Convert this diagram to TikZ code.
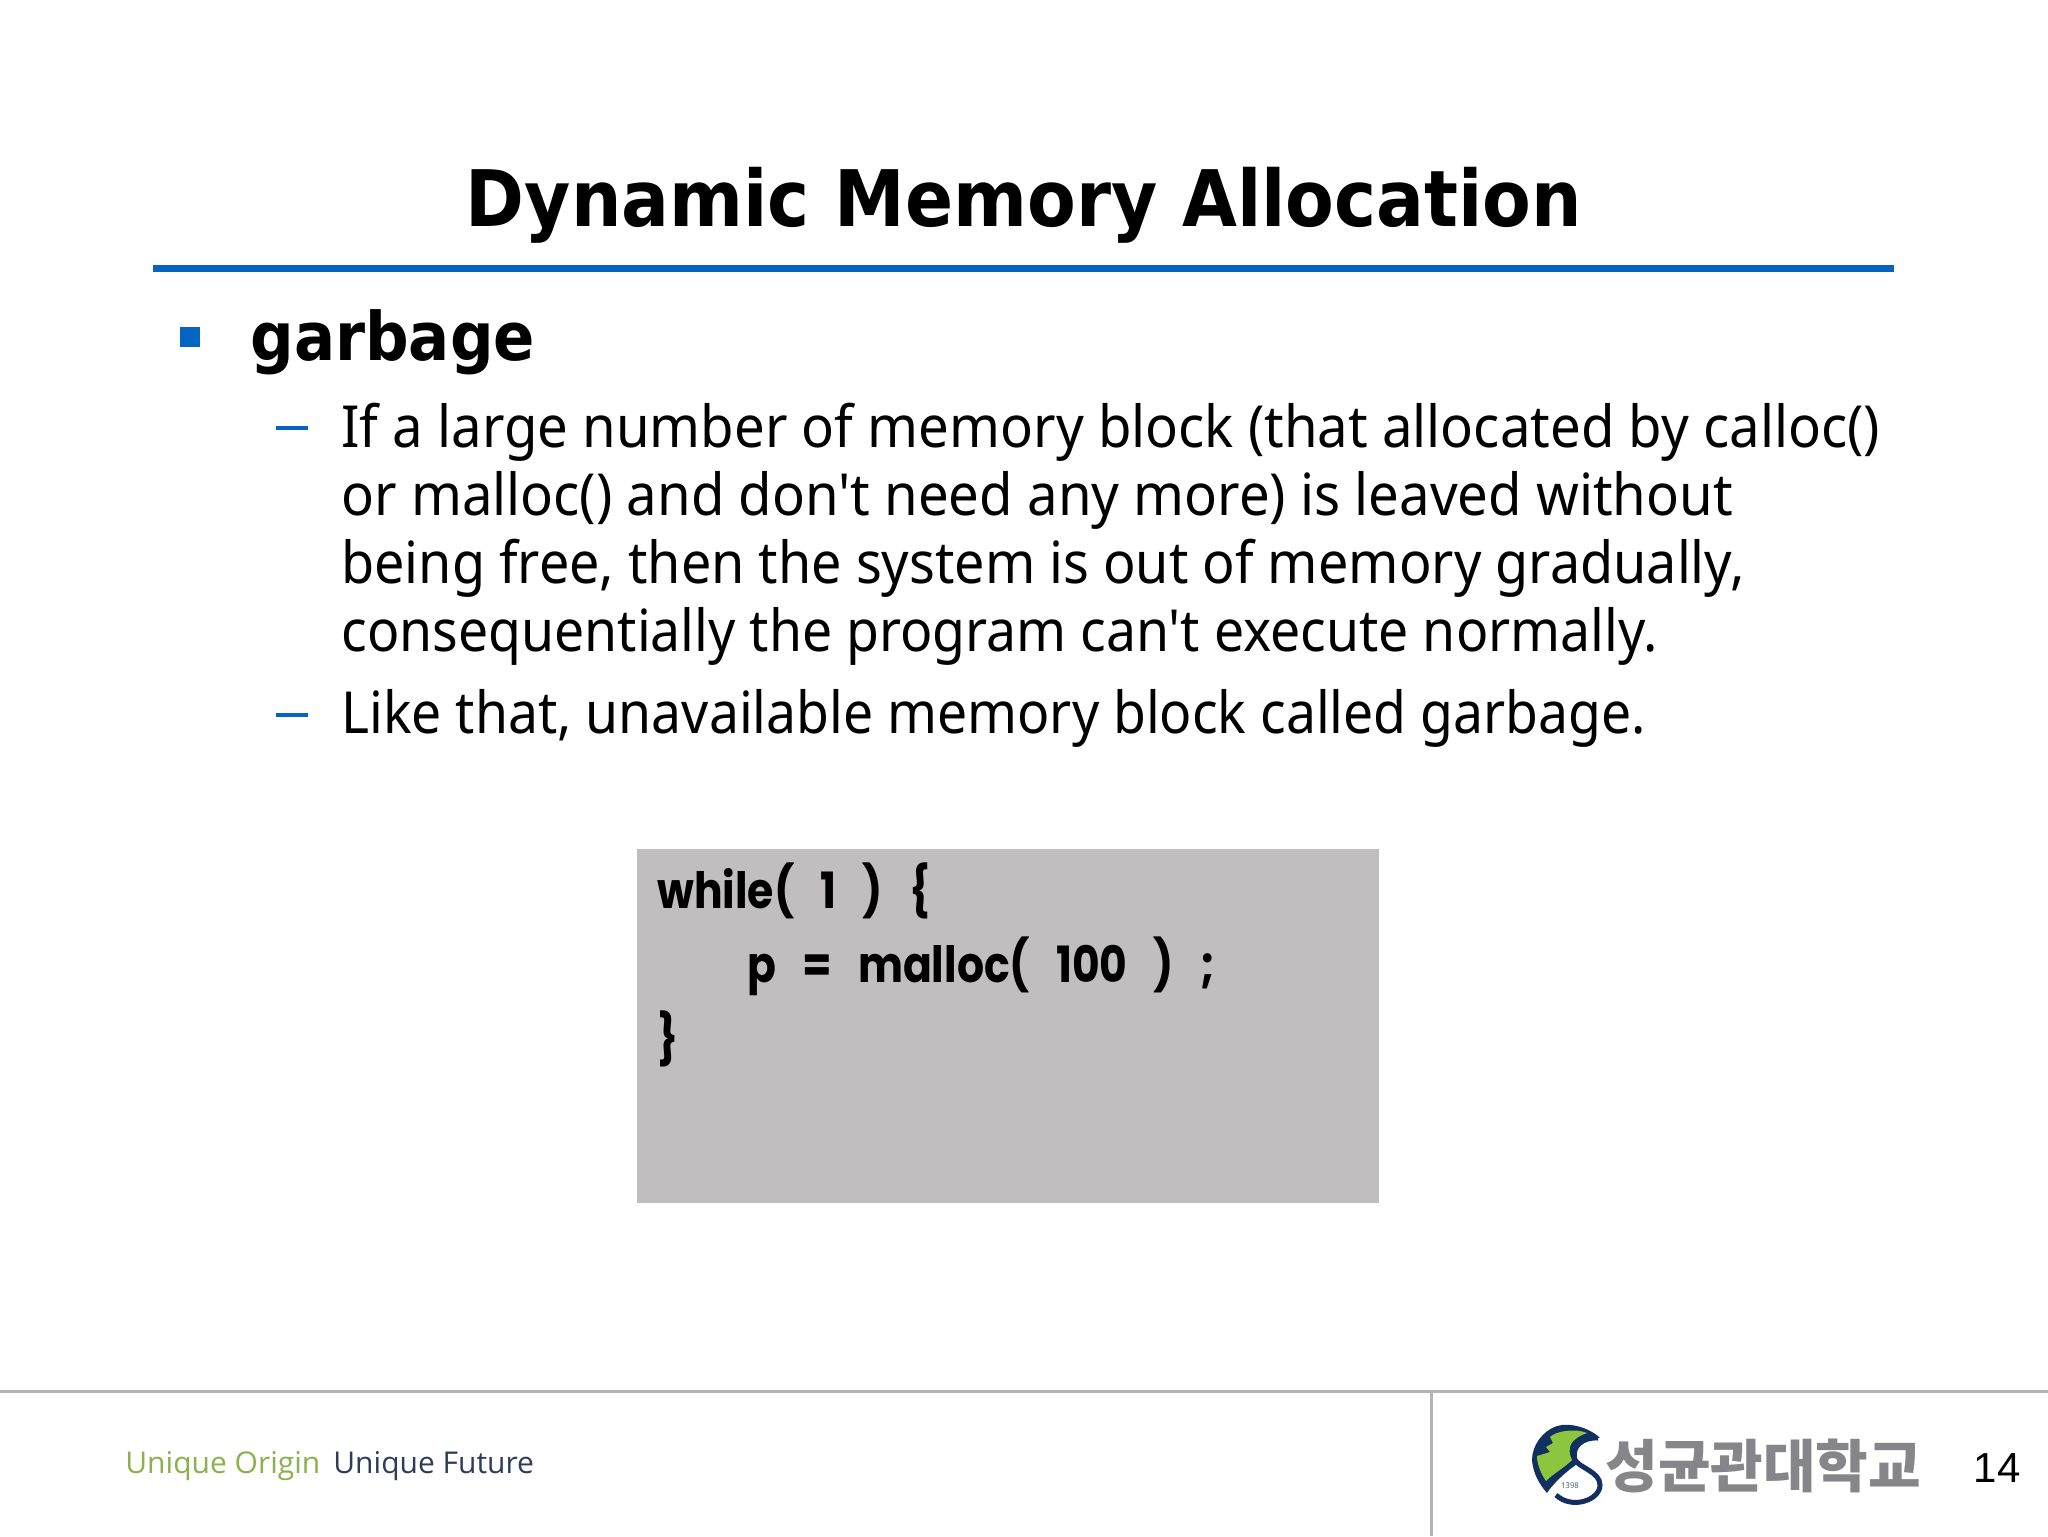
\documentclass[tikz,border=0pt]{standalone}
\usepackage{fontspec}
\setmainfont[FakeStretch=0.94, Ligatures=TeXOff]{Noto Sans}
\newfontfamily\titlefont[FakeStretch=0.91]{DejaVu Sans}
\newfontfamily\codefont[FakeStretch=0.85, WordSpace=2.9]{Poppins}
\newfontfamily\hangulfont{Noto Sans CJK KR}
\newfontfamily\footfont{Open Sans}
\newfontfamily\pagefont{Liberation Sans}
\newcommand{\squeezed}[2]{\scalebox{#1}[1]{#2}}
\definecolor{barblue}{HTML}{0563C1}
\definecolor{rulegray}{HTML}{B4B4B4}
\definecolor{boxgray}{HTML}{C0BEBF}
\definecolor{leafgreen}{HTML}{8CC63F}
\definecolor{leafnavy}{HTML}{12305F}
\definecolor{origingreen}{HTML}{8DB04E}
\definecolor{futurenavy}{HTML}{2F3C58}
\definecolor{hangulgray}{HTML}{86868A}
\tikzset{
  bodyline/.style={anchor=base west, inner sep=0pt, font=\fontsize{29}{29}\selectfont},
  codeline/.style={anchor=base west, inner sep=0pt, font=\codefont\bfseries\fontsize{25}{25}\selectfont},
  footline/.style={anchor=base west, inner sep=0pt, font=\footfont\fontsize{15}{15}\selectfont},
}

\begin{document}
\begin{tikzpicture}[x=0.5pt, y=-0.5pt]
    \useasboundingbox (0,0) rectangle (2048,1536);
    \coordinate (TL) at (153,268);
    \coordinate (TR) at (1894,268);
    \coordinate (FL) at (0,1391);
    \coordinate (FR) at (2048,1391);
    \coordinate (FM) at (1431,1391);
    \coordinate (FB) at (1431,1536);
    % title and rule
    \node[anchor=base, inner sep=0pt, font=\titlefont\bfseries\fontsize{39}{39}\selectfont] (title) at (1024,226) {Dynamic Memory Allocation};
    \draw[barblue, line width=3.5pt] (TL) -- (TR);
    % bullets
    \fill[barblue] (180,327) rectangle (200,347);
    \fill[barblue] (276,426) rectangle (308,430);
    \fill[barblue] (276,713) rectangle (308,717);
    \node[anchor=base west, inner sep=0pt, font=\titlefont\bfseries\fontsize{33.5}{33.5}\selectfont] (head) at (250,360) {garbage};
    % body text
    \node[bodyline] (lineA) at (341,447) {If a large number of memory block (that allocated by calloc()};
    \node[bodyline] (lineB) at (341,515) {or malloc() and don't need any more) is leaved without};
    \node[bodyline] (lineC) at (341,583) {\squeezed{0.989}{being free, then the system is out of memory gradually,}};
    \node[bodyline] (lineD) at (341,651) {\squeezed{0.982}{consequentially the program can't execute normally.}};
    \node[bodyline] (lineE) at (341,733) {\squeezed{0.981}{Like that, unavailable memory block called garbage.}};
    % code box
    \fill[boxgray] (637,849) rectangle (1379,1203);
    \node[codeline] (codeA) at (657,908) {while( 1 ) \{};
    \node[codeline] (codeB) at (747,982) {p = malloc( 100 ) ;};
    \node[codeline] (codeC) at (657,1056) {\}};
    % footer
    \draw[rulegray, line width=1.5pt] (FL) -- (FR);
    \draw[rulegray, line width=1.5pt] (FM) -- (FB);
    \node[footline, text=origingreen] (origin) at (125,1473) {Unique Origin};
    \node[footline, text=futurenavy] (future) at (333,1473) {Unique Future};
    % logo
    \fill[leafnavy] (1600,1438) .. controls (1590,1428) and (1570,1422) .. (1557,1426) .. controls (1542,1431) and (1532,1446) .. (1532,1460) .. controls (1533,1474) and (1540,1485) .. (1547,1493) .. controls (1550,1488) and (1560,1476) .. (1577,1464) -- (1573,1448) .. controls (1578,1440) and (1590,1437) .. (1600,1438) -- cycle;
    \fill[leafgreen] (1550,1437) .. controls (1556,1431) and (1575,1428) .. (1587,1433) .. controls (1578,1436) and (1570,1442) .. (1570,1448) .. controls (1569,1452) and (1570,1456) .. (1572,1460) .. controls (1565,1467) and (1553,1474) .. (1546,1481) .. controls (1541,1474) and (1537,1464) .. (1537,1456) -- (1550,1452) -- (1546,1447) -- (1553,1443) -- cycle;
    \draw[leafnavy, line width=2.5pt] (1598,1438) .. controls (1582,1437) and (1571,1447) .. (1575,1460) .. controls (1580,1468) and (1600,1472) .. (1600,1485) .. controls (1600,1500) and (1572,1510) .. (1556,1495);
    \node[inner sep=0pt, text=leafnavy!80, font=\bfseries\fontsize{4}{4}\selectfont] (founded) at (1570,1486) {1398};
    \node[anchor=west, inner sep=0pt, text=hangulgray, font=\hangulfont\bfseries\fontsize{28.6}{28.6}\selectfont] (school) at (1605,1466) {성균관대학교};
    \node[anchor=base east, inner sep=0pt, font=\pagefont\fontsize{21}{21}\selectfont] (page) at (2021,1482) {14};
\end{tikzpicture}
\end{document}
